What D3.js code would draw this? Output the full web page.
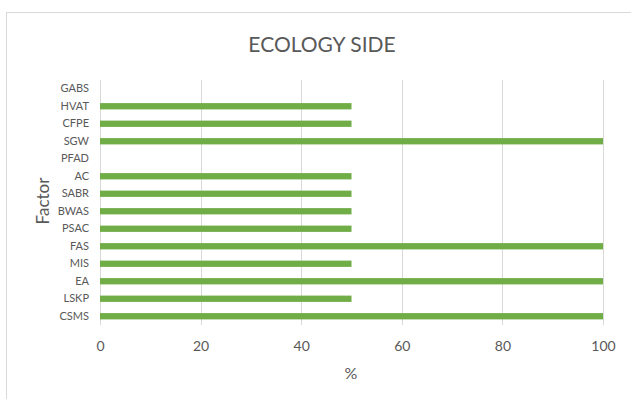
<!DOCTYPE html>
<html><head><meta charset="utf-8">
<script src="https://cdn.jsdelivr.net/npm/d3@7"></script>
<style>body{margin:0;background:#fff;} svg{display:block;font-family:Lato, "Open Sans", sans-serif;}</style>
</head><body>
<svg id="c" width="631" height="399"></svg>
<script>
const categories = ["GABS","HVAT","CFPE","SGW","PFAD","AC","SABR","BWAS","PSAC","FAS","MIS","EA","LSKP","CSMS"];
const values = [0,50,50,100,0,50,50,50,50,100,50,100,50,100];
const xTicks = [0,20,40,60,80,100];
const title = "ECOLOGY SIDE";
const xTitle = "%";
const yTitle = "Factor";

const svg = d3.select("#c");
const m = {left:100, top:80};
// chart border
svg.append("rect").attr("x",6.5).attr("y",12.5).attr("width",640).attr("height",400)
  .attr("fill","none").attr("stroke","#d9d9d9").attr("stroke-width",1);

const x = d3.scaleLinear().domain([0,100]).range([m.left, 603]);
const y = d3.scaleBand().domain(categories).range([m.top, 325]).paddingInner(0.64).paddingOuter(0.32);

svg.append("g").selectAll("line").data(xTicks).join("line")
  .attr("x1",d=>Math.round(x(d))+0.5).attr("x2",d=>Math.round(x(d))+0.5)
  .attr("y1",m.top).attr("y2",325)
  .attr("stroke","#d9d9d9").attr("stroke-width",1);

svg.append("g").selectAll("rect").data(categories).join("rect")
  .attr("x",x(0)).attr("y",(d)=>y(d))
  .attr("width",(d,i)=>x(values[i])-x(0)).attr("height",y.bandwidth())
  .attr("fill","#70ad47");

const xAxis = d3.axisBottom(x).tickValues(xTicks).tickSize(0).tickPadding(0);
const gx = svg.append("g").attr("transform","translate(0,341)").call(xAxis);
gx.select(".domain").remove();
gx.selectAll("text").attr("fill","#595959").attr("font-size",14).attr("dy","0.71em").attr("font-family","Lato");

const yAxis = d3.axisLeft(y).tickSize(0).tickPadding(11);
const gy = svg.append("g").attr("transform",`translate(${m.left},0)`).call(yAxis);
gy.select(".domain").remove();
gy.selectAll("text").attr("fill","#595959").attr("font-size",11).attr("font-family","Lato");

svg.append("text").attr("x",351).attr("y",379).attr("text-anchor","middle")
  .attr("fill","#595959").attr("font-size",16).text(xTitle);
svg.append("text").attr("transform","translate(49,201) rotate(-90)").attr("text-anchor","middle")
  .attr("fill","#595959").attr("font-size",17).text(yTitle);
svg.append("text").attr("x",322).attr("y",52).attr("text-anchor","middle")
  .attr("fill","#595959").attr("font-size",21).text(title);
</script>
</body></html>
